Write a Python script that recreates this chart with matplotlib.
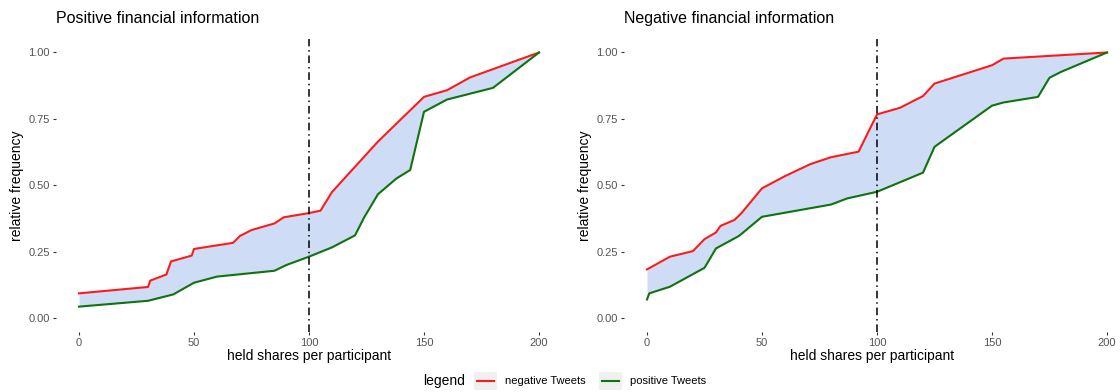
import numpy as np
import matplotlib.pyplot as plt
from matplotlib.lines import Line2D
from matplotlib.patches import Rectangle

plt.rcParams['font.family'] = ['Liberation Sans', 'DejaVu Sans']

# positive financial information
pos_neg_x = [0, 30, 31, 38, 40, 49, 50, 67, 70, 75, 85, 89, 100, 105, 110, 130, 150, 160, 170, 200]
pos_neg_y = [0.094, 0.118, 0.142, 0.165, 0.214, 0.236, 0.261, 0.284, 0.31, 0.332, 0.357, 0.38,
             0.396, 0.405, 0.475, 0.665, 0.833, 0.858, 0.906, 1.0]
pos_pos_x = [0, 30, 41, 50, 60, 85, 90, 100, 110, 120, 124, 130, 133, 138, 144, 150, 160, 180, 200]
pos_pos_y = [0.044, 0.066, 0.09, 0.134, 0.157, 0.179, 0.2, 0.232, 0.267, 0.312, 0.38, 0.467,
             0.489, 0.526, 0.558, 0.777, 0.823, 0.867, 1.0]

# negative financial information
neg_neg_x = [0, 10, 20, 25, 30, 32, 38, 41, 50, 60, 71, 80, 92, 100, 110, 120, 125, 150, 155, 200]
neg_neg_y = [0.184, 0.232, 0.253, 0.298, 0.323, 0.348, 0.37, 0.395, 0.489, 0.535, 0.58, 0.606,
             0.627, 0.767, 0.792, 0.836, 0.883, 0.952, 0.977, 1.0]
neg_pos_x = [0, 1, 10, 25, 30, 40, 50, 80, 87, 100, 120, 125, 129, 150, 155, 170, 175, 180, 200]
neg_pos_y = [0.071, 0.094, 0.119, 0.19, 0.263, 0.31, 0.382, 0.428, 0.451, 0.476, 0.548, 0.645,
             0.67, 0.8, 0.812, 0.833, 0.905, 0.927, 1.0]

titles = ["Positive financial information", "Negative financial information"]
yticks = [0, 0.25, 0.5, 0.75, 1.0]
xticks = [0, 50, 100, 150, 200]

red = '#ff1a1a'
green = '#0f730f'
fillc = '#cfdcf5'

fig = plt.figure(figsize=(11.2, 3.92), dpi=100)
axes = [fig.add_axes([56/1120, 0.154, 506/1120, 0.746]),
        fig.add_axes([624/1120, 0.154, 496/1120, 0.746])]
data = [(pos_neg_x, pos_neg_y, pos_pos_x, pos_pos_y),
        (neg_neg_x, neg_neg_y, neg_pos_x, neg_pos_y)]

for i, ax in enumerate(axes):
    nx, ny, px, py = data[i]
    grid = np.union1d(nx, px)
    lo = np.interp(grid, px, py)
    hi = np.interp(grid, nx, ny)
    ax.fill_between(grid, lo, hi, color=fillc, lw=0)
    ax.plot(nx, ny, color=red, lw=1.5)
    ax.plot(px, py, color=green, lw=1.5)
    ax.axvline(100, color='black', lw=1.1, linestyle=(0, (5, 2.5, 1, 2.5)))
    ax.set_ylim(-0.05, 1.05)
    if i == 0:
        ax.set_xlim(-10, 210)
    else:
        ax.set_xlim(-10, -10 + 496/2.3)
    ax.set_xticks(xticks)
    ax.set_yticks(yticks)
    ax.set_yticklabels(['0.00', '0.25', '0.50', '0.75', '1.00'])
    ax.tick_params(length=2.5, width=0.8, color='#333333', labelcolor='#555555',
                   labelsize=8, pad=2)
    for s in ax.spines.values():
        s.set_visible(False)
    ax.set_xlabel('held shares per participant', fontsize=10, labelpad=1)
    ax.set_ylabel('relative frequency', fontsize=10, labelpad=3)
    ax.set_title(titles[i], loc='left', fontsize=11.5, pad=12)

# legend at the bottom
ly = 1 - 381/392
fig.text(423/1120, ly, 'legend', fontsize=10, va='center', ha='left')
for x0, col, lab in [(474, red, 'negative Tweets'), (599, green, 'positive Tweets')]:
    fig.add_artist(Rectangle((x0/1120, ly - 9/392), 23/1120, 18/392,
                             transform=fig.transFigure, color='#f0f0f0', lw=0))
    fig.add_artist(Line2D([(x0 + 3)/1120, (x0 + 20)/1120], [ly, ly],
                          transform=fig.transFigure, color=col, lw=1.5))
    fig.text((x0 + 31)/1120, ly, lab, fontsize=8, va='center', ha='left')

fig.savefig('out.png', dpi=100)
